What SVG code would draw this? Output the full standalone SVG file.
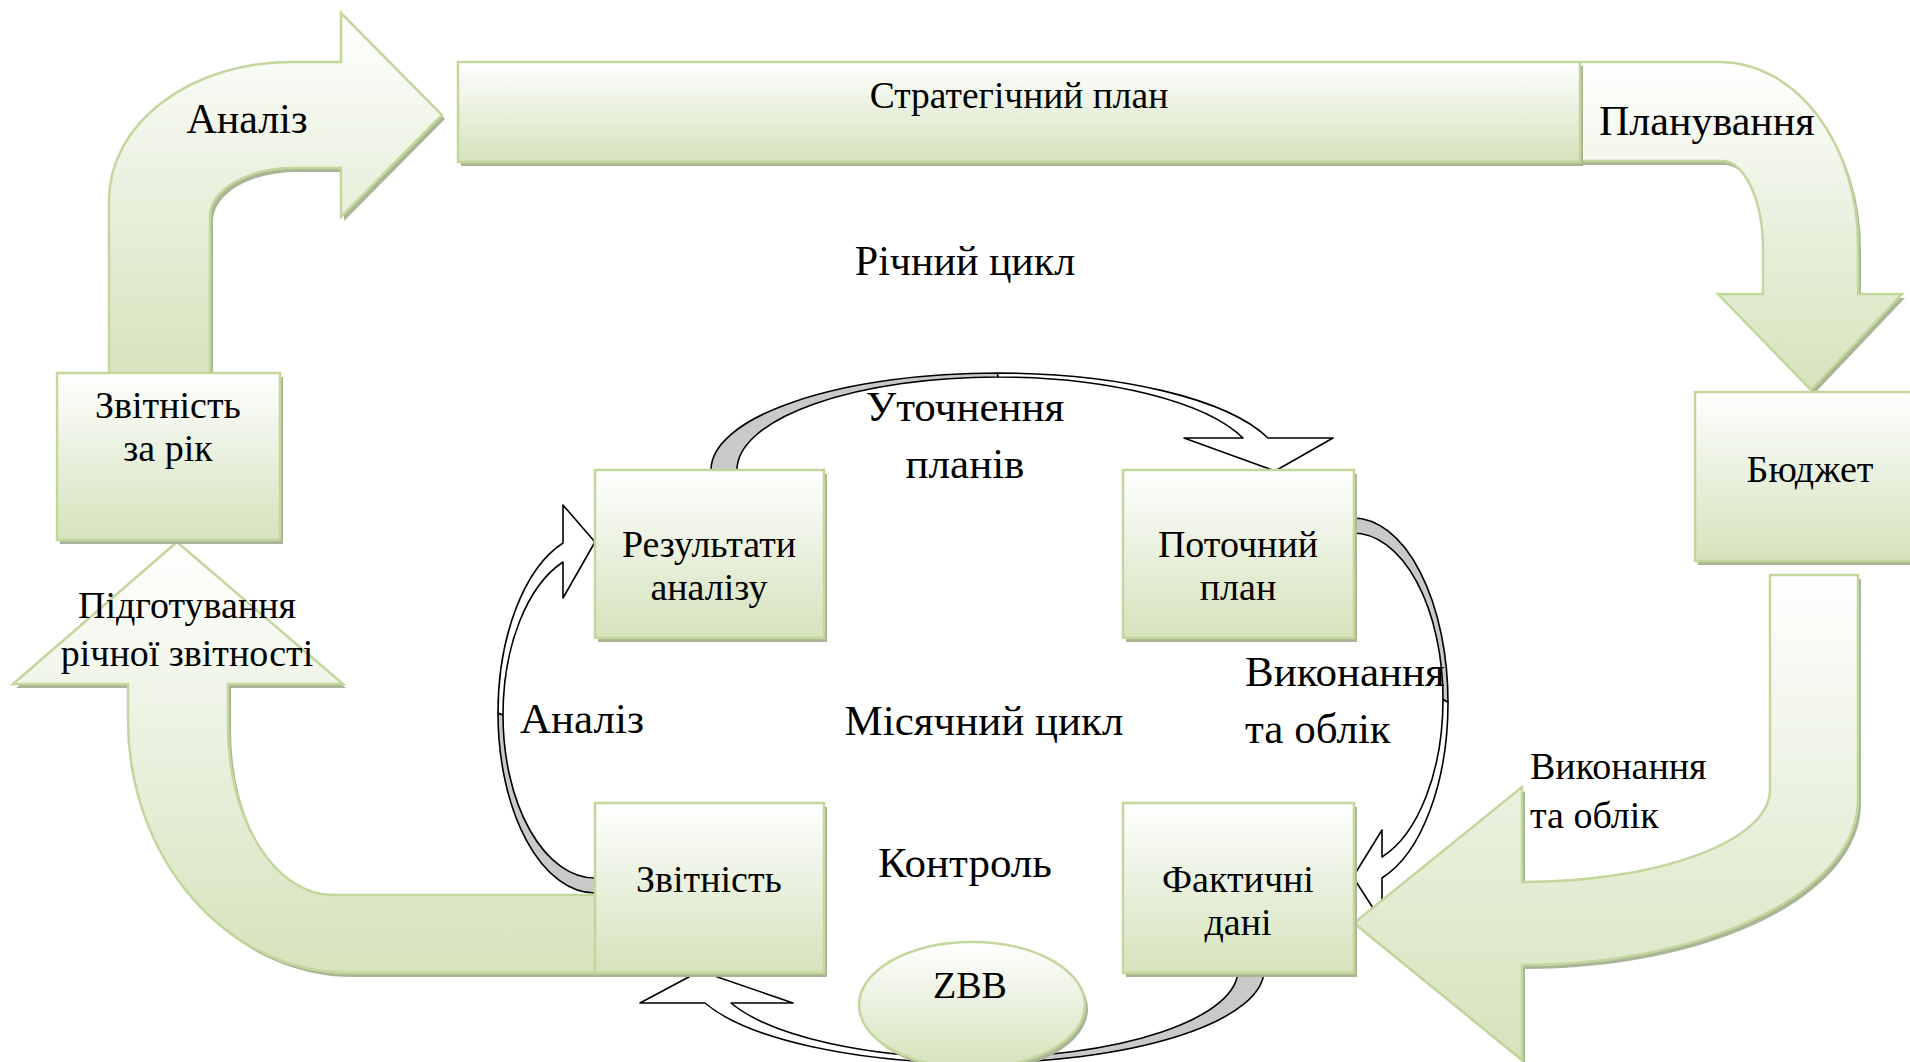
<svg xmlns="http://www.w3.org/2000/svg" xmlns:xlink="http://www.w3.org/1999/xlink" width="1910" height="1062" viewBox="0 0 1910 1062">
<style>
.g{fill:url(#grad);stroke:#c3d69b;stroke-width:2.5}
.sh{fill:#a8b596;stroke:none}
.back{fill:#c9c9c9;stroke:#000;stroke-width:1.6;stroke-linejoin:round}
.front{fill:#fff;stroke:#000;stroke-width:1.6;stroke-linejoin:round}
text{font-family:"Liberation Serif","Times New Roman",serif;fill:#000}
.big{font-size:42px}
.lab{font-size:43px}
.mid{font-size:38px}
.c{text-anchor:middle}
</style>
<defs>
<linearGradient id="grad" x1="0" y1="0" x2="0" y2="1">
<stop offset="0" stop-color="#ffffff"/>
<stop offset="0.5" stop-color="#e9f0dd"/>
<stop offset="1" stop-color="#d6e3bc"/>
</linearGradient>
<path id="aAnaliz" d="M109,380 L109,200 A181,138 0 0,1 290,62 L341,62 L341,13 L442,115 L341,217 L341,168 L293,168 A83,49 0 0,0 210,217 L210,380 Z"/>
<path id="aPlan" d="M1580,62 L1720,62 A138,183 0 0,1 1858,245 L1858,294 L1902,294 L1811,390 L1718,294 L1763,294 L1763,249 A41,88 0 0,0 1722,161 L1580,161 Z"/>
<path id="aVyk" d="M1770,575 L1858,575 L1858,800 A336,165 0 0,1 1522,965 L1522,1060 L1354,923 L1522,787 L1522,882 A248,92 0 0,0 1770,790 Z"/>
<path id="aPidg" d="M177,542 L343,684 L228,684 L228,727 A105,168 0 0,0 333,895 L600,895 L600,973 L350,973 A222,253 0 0,1 128,720 L128,684 L13,684 Z"/>
<rect id="rStrat" x="458" y="62" width="1122" height="100"/>
<rect id="rBud" x="1695" y="392" width="225" height="169"/>
<rect id="rZvRik" x="57" y="373" width="223" height="167"/>
<rect id="rRez" x="595" y="470" width="229" height="168"/>
<rect id="rPot" x="1123" y="470" width="231" height="168"/>
<rect id="rZv" x="595" y="803" width="229" height="170"/>
<rect id="rFakt" x="1123" y="803" width="231" height="170"/>
<ellipse id="eZBB" cx="972" cy="1005" rx="113" ry="63"/>
</defs>

<g id="connectors">
<g id="arrow-utochnennia">
<path class="back" d="M711,470 A286.5,97 0 0,1 997.5,373 L998,377 A261,93 0 0,0 737,470 Z"/>
<path class="front" d="M997.5,373 A286.5,97 0 0,1 1268,438 L1333,438 L1275,471 L1184,438 L1243,438 A261,93 0 0,0 998,377 Z"/>
</g>
<g id="arrow-vykonannia-inner">
<path class="back" d="M1353,518 A95,184.4 0 0,1 1448,702.4 L1443,699.4 A90,166.4 0 0,0 1353,533 Z"/>
<path class="front" d="M1448,702.4 A95,184.4 0 0,1 1382,878 L1382,922 L1353,877 L1382,830 L1382,857 A90,166.4 0 0,0 1443,699.4 Z"/>
</g>
<g id="arrow-kontrol">
<path class="back" d="M1264,970 A289,93 0 0,1 975,1063 L975,1058 A263,88 0 0,0 1238,970 Z"/>
<path class="front" d="M975,1063 A289,93 0 0,1 705,1003 L640,1003 L700,971 L793,1003 L731,1003 A263,88 0 0,0 975,1058 Z"/>
</g>
<g id="arrow-analiz-inner">
<path class="back" d="M595,893 A97,180 0 0,1 498,713 L503,715 A92,163 0 0,0 595,878 Z"/>
<path class="front" d="M498,713 A97,180 0 0,1 563,543 L563,505 L595,542 L563,598 L563,562 A92,163 0 0,0 503,715 Z"/>
</g>
<g id="arrow-analiz">
<use href="#aAnaliz" class="sh" transform="translate(3,4)"/>
<use href="#aAnaliz" class="g"/>
</g>
<g id="arrow-planuvannia">
<use href="#aPlan" class="sh" transform="translate(3,4)"/>
<use href="#aPlan" class="g"/>
</g>
<g id="arrow-vykonannia">
<use href="#aVyk" class="sh" transform="translate(3,4)"/>
<use href="#aVyk" class="g"/>
</g>
<g id="arrow-pidgotuvannia">
<use href="#aPidg" class="sh" transform="translate(3,4)"/>
<use href="#aPidg" class="g"/>
</g>
</g>

<g id="node-strategic">
<use href="#rStrat" class="sh" transform="translate(3,4)"/>
<use href="#rStrat" class="g"/>
<text class="c" style="font-size:37.5px" x="1019" y="108">Стратегічний план</text>
</g>
<g id="node-budget">
<use href="#rBud" class="sh" transform="translate(3,4)"/>
<use href="#rBud" class="g"/>
<text class="mid c" x="1810" y="482">Бюджет</text>
</g>
<g id="node-zvitnist-rik">
<use href="#rZvRik" class="sh" transform="translate(3,4)"/>
<use href="#rZvRik" class="g"/>
<text class="mid c" x="168" y="418">Звітність</text>
<text class="mid c" x="168" y="461">за рік</text>
</g>
<g id="node-rezultaty">
<use href="#rRez" class="sh" transform="translate(3,4)"/>
<use href="#rRez" class="g"/>
<text class="mid c" x="709" y="557">Результати</text>
<text class="mid c" x="709" y="600">аналізу</text>
</g>
<g id="node-potochnyi">
<use href="#rPot" class="sh" transform="translate(3,4)"/>
<use href="#rPot" class="g"/>
<text class="mid c" x="1238" y="557">Поточний</text>
<text class="mid c" x="1238" y="600">план</text>
</g>
<g id="node-zvitnist">
<use href="#rZv" class="sh" transform="translate(3,4)"/>
<use href="#rZv" class="g"/>
<text class="mid c" x="709" y="892">Звітність</text>
</g>
<g id="node-faktychni">
<use href="#rFakt" class="sh" transform="translate(3,4)"/>
<use href="#rFakt" class="g"/>
<text class="mid c" x="1238" y="892">Фактичні</text>
<text class="mid c" x="1238" y="935">дані</text>
</g>
<g id="node-zbb">
<use href="#eZBB" class="sh" transform="translate(3,4)"/>
<use href="#eZBB" class="g"/>
<text class="mid c" x="970" y="998">ZBB</text>
</g>

<g id="labels">
<text class="big c" x="247" y="133">Аналіз</text>
<text class="big" x="1599" y="135">Планування</text>
<text class="big c" x="965" y="275">Річний цикл</text>
<text class="mid c" x="187" y="618">Підготування</text>
<text class="mid c" x="187" y="666">річної звітності</text>
<text class="lab c" x="965" y="421">Уточнення</text>
<text class="lab c" x="965" y="478">планів</text>
<text class="lab" x="1245" y="686">Виконання</text>
<text class="lab" x="1245" y="743">та облік</text>
<text class="lab" x="520" y="733">Аналіз</text>
<text class="lab c" x="984" y="735">Місячний цикл</text>
<text class="lab c" x="965" y="877">Контроль</text>
<text class="mid" x="1530" y="779">Виконання</text>
<text class="mid" x="1530" y="828">та облік</text>
</g>
</svg>
